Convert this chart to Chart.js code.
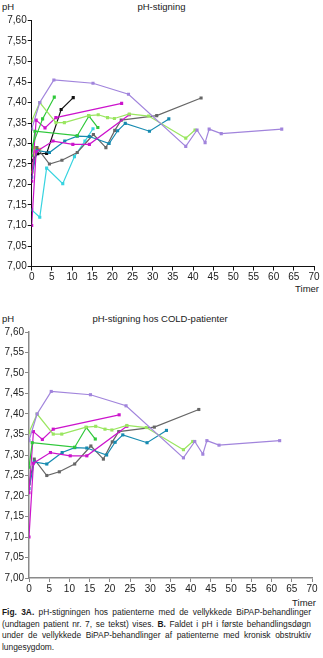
<!DOCTYPE html>
<html lang="da">
<head>
<meta charset="utf-8">
<script src="https://cdn.jsdelivr.net/npm/chart.js@4/dist/chart.umd.min.js"></script>
<style>
  body { margin: 0; width: 323px; height: 658px; background: #fff; position: relative; overflow: hidden;
         font-family: "Liberation Sans", Arial, sans-serif; color: #1a1a1a; }
  canvas { position: absolute; left: 0; }
  .lbl { position: absolute; font-size: 9.5px; line-height: 11px; white-space: nowrap; }
  #tekst { position: absolute; left: 2px; top: 607px; width: 309px; font-size: 8.4px; line-height: 11.5px; }
  #tekst div { text-align: justify; text-align-last: justify; white-space: nowrap; }
  #tekst div.sidst { text-align-last: left; }
</style>
</head>
<body>
<div class="lbl" style="left:2px;top:1px">pH</div>
<div class="lbl" style="left:0;width:323px;top:1px;text-align:center">pH-stigning</div>
<canvas id="graf1" width="323" height="282" style="top:0"></canvas>
<div class="lbl" style="right:4px;top:283px">Timer</div>

<div class="lbl" style="left:2px;top:313px">pH</div>
<div class="lbl" style="left:0;width:320px;top:313px;text-align:center">pH-stigning hos COLD-patienter</div>
<canvas id="graf2" width="323" height="296" style="top:300px"></canvas>
<div class="lbl" style="right:7px;top:597px">Timer</div>

<div id="tekst">
  <div><b>Fig. 3A.</b> pH-stigningen hos patienterne med de vellykkede BiPAP-behandlinger</div>
  <div>(undtagen patient nr. 7, se tekst) vises. <b>B.</b> Faldet i pH i første behandlingsdøgn</div>
  <div>under de vellykkede BiPAP-behandlinger af patienterne med kronisk obstruktiv</div>
  <div class="sidst">lungesygdom.</div>
</div>

<script>
// akser
const timerMin = 0, timerMax = 70, timerStep = 5;
const phMin = 7.0, phMax = 7.6, phStep = 0.05;

// målinger pr. patient: timer efter start og målt pH
const lillaTimer = [0, 2, 5.5, 15.2, 24, 38.2, 41, 43, 44, 47, 62];
const lillaPH    = [7.335, 7.40, 7.455, 7.447, 7.42, 7.293, 7.333, 7.302, 7.335, 7.324, 7.335];

const lysegroenTimer = [0, 2, 6, 8.1, 14.1, 16.5, 18.8, 20.5, 24.2, 29, 38.2, 40.5];
const lysegroenPH    = [7.355, 7.40, 7.351, 7.351, 7.368, 7.37, 7.363, 7.361, 7.372, 7.367, 7.313, 7.333];

const groenTimer = [0, 0.8, 11.3, 14.2, 16.4];
const groenPH    = [7.27, 7.33, 7.319, 7.367, 7.339];

const groen2Timer = [0, 2.7, 5.6];
const groen2PH    = [7.29, 7.36, 7.413];

const magentaTimer = [0, 1.1, 3.3, 6, 22.3];
const magentaPH    = [7.208, 7.357, 7.338, 7.363, 7.398];

const magenta2Timer = [0, 1.1, 5.3, 10.2, 14.3, 24.2];
const magenta2PH    = [7.10, 7.28, 7.306, 7.298, 7.298, 7.37];

const blaaTimer = [0, 1.3, 4.4, 8.2, 11.3, 14.3, 19.2, 21.3, 23.2, 29.2, 34];
const blaaPH    = [7.218, 7.283, 7.278, 7.306, 7.318, 7.317, 7.30, 7.331, 7.349, 7.33, 7.36];

const graaTimer = [0, 1.3, 4.4, 7.5, 11.3, 15.3, 18.4, 20.6, 22.2, 31, 42];
const graaPH    = [7.23, 7.29, 7.25, 7.259, 7.278, 7.322, 7.29, 7.332, 7.357, 7.368, 7.411];

const sortTimer = [0, 1.5, 3.7, 7.3, 10.3];
const sortPH    = [7.258, 7.275, 7.276, 7.383, 7.412];

const cyanTimer = [0, 2, 3.7, 7.7, 10.6, 13.2, 15.2];
const cyanPH    = [7.138, 7.12, 7.24, 7.202, 7.268, 7.306, 7.336];

const gulTimer = [0, 0.8, 2];
const gulPH    = [7.23, 7.29, 7.286];

function serie(timer, ph, farve) {
    return {
        data: timer.map((t, i) => ({ x: t, y: ph[i] })),
        borderColor: farve,
        backgroundColor: farve,
        borderWidth: 1.2,
        pointStyle: "rect",
        pointRadius: 2.2,
        pointBorderWidth: 0,
        tension: 0,
    };
}

const lilla = () => serie(lillaTimer, lillaPH, "#a184dc");
const lysegroen = () => serie(lysegroenTimer, lysegroenPH, "#9ae660");
const groen = () => serie(groenTimer, groenPH, "#2fc83a");
const groen2 = () => serie(groen2Timer, groen2PH, "#2fc83a");
const magenta = () => serie(magentaTimer, magentaPH, "#cc14cc");
const magenta2 = () => serie(magenta2Timer, magenta2PH, "#cc14cc");
const blaa = () => serie(blaaTimer, blaaPH, "#168ab0");
const graa = () => serie(graaTimer, graaPH, "#666666");
const sort = () => serie(sortTimer, sortPH, "#111111");
const cyan = () => serie(cyanTimer, cyanPH, "#38d4e0");
const gul = () => serie(gulTimer, gulPH, "#e2e21a");

function tegnGraf(canvas, datasets, opt) {
    const akseFont = { family: "'Liberation Sans', Arial, sans-serif", size: 10 };
    new Chart(canvas, {
        type: "line",
        data: { datasets: datasets },
        options: {
            responsive: false,
            animation: false,
            layout: { padding: { top: opt.top, right: opt.right, bottom: 0, left: 0 } },
            plugins: { legend: { display: false }, tooltip: { enabled: false } },
            scales: {
                x: {
                    type: "linear",
                    min: timerMin, max: timerMax,
                    ticks: { stepSize: timerStep, color: "#222", font: akseFont, padding: 1, maxRotation: 0 },
                    grid: { drawOnChartArea: false, drawTicks: true, tickLength: 4, color: opt.akse },
                    border: { display: true, color: opt.akse, width: opt.bredde },
                    afterFit: s => { s.height = opt.xHoejde; },
                },
                y: {
                    min: phMin, max: phMax,
                    ticks: {
                        stepSize: phStep, color: "#222", font: akseFont, padding: 1,
                        callback: v => v.toFixed(2).replace(".", ","),
                    },
                    grid: { drawOnChartArea: false, drawTicks: true, tickLength: 4, color: opt.akse },
                    border: { display: true, color: opt.akse, width: opt.bredde },
                    afterFit: s => { s.width = opt.yBredde; },
                },
            },
        },
    });
}

// A: alle vellykkede behandlinger
tegnGraf(document.getElementById("graf1"),
    [lilla(), lysegroen(), groen(), groen2(), magenta(), magenta2(), blaa(), graa(), sort(), cyan(), gul()],
    { top: 20.5, right: 9, xHoejde: 15.5, yBredde: 31.7, akse: "#111", bredde: 1 });

// B: COLD-patienter
tegnGraf(document.getElementById("graf2"),
    [lilla(), lysegroen(), groen(), magenta(), magenta2(), blaa(), graa()],
    { top: 32, right: 11, xHoejde: 18, yBredde: 29, akse: "#8a8a8a", bredde: 1.5 });
</script>
</body>
</html>
